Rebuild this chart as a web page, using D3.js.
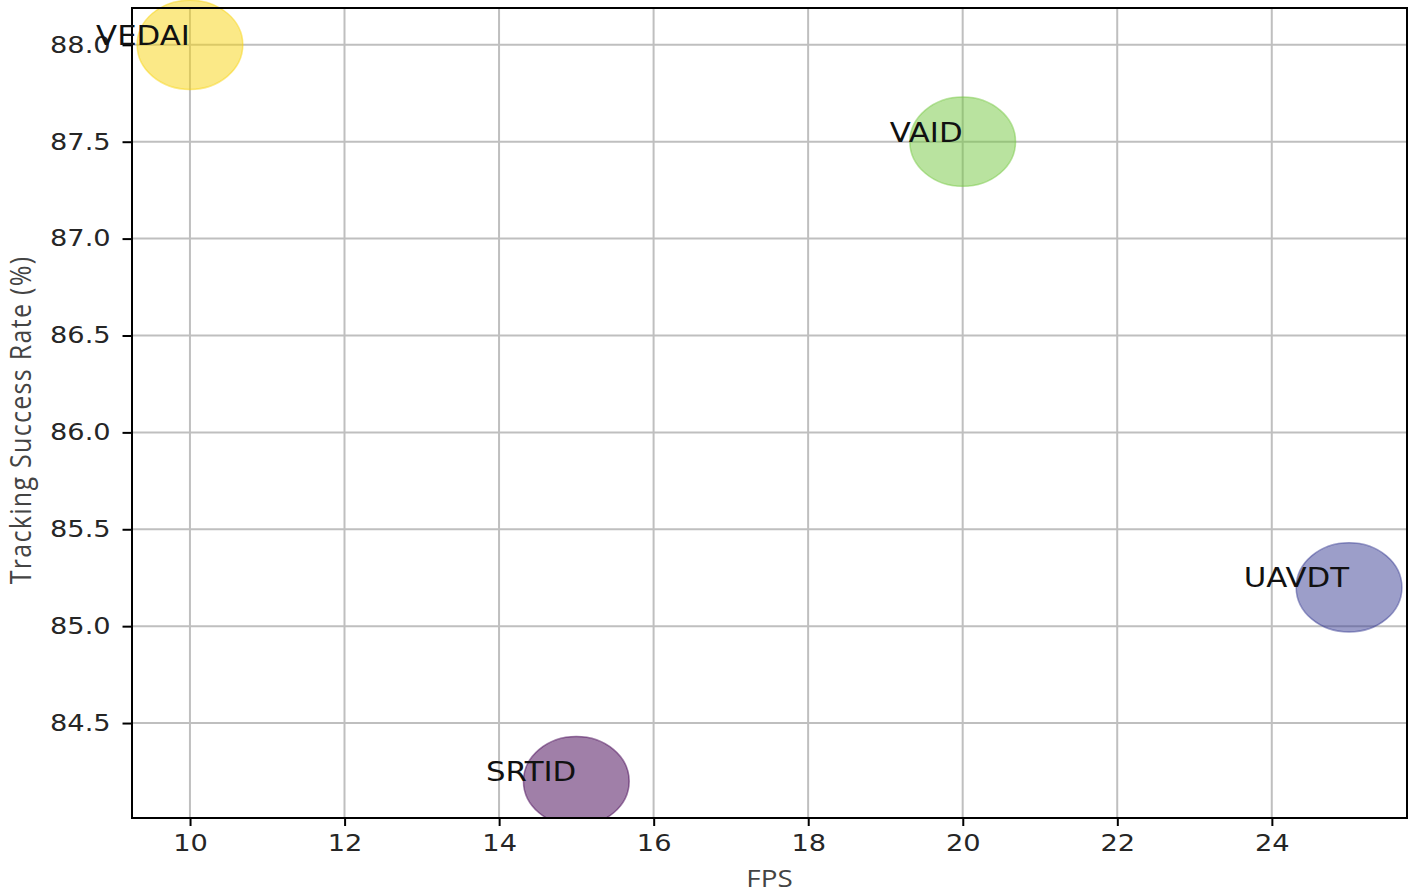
<!DOCTYPE html>
<html>
<head>
<meta charset="utf-8">
<script src="https://cdn.jsdelivr.net/npm/d3@7"></script>
<style>
  html, body { margin: 0; padding: 0; background: #fff; }
  svg { display: block; }
  .ln { vector-effect: non-scaling-stroke; }
</style>
</head>
<body>
<svg id="chart" width="1418" height="895"></svg>
<script>
// ---- data ----
const names = ["VEDAI", "VAID", "UAVDT", "SRTID"];
const fps = [10, 20, 25, 15];
const successRate = [88.0, 87.5, 85.2, 84.2];
const colors = ["#f7d30f", "#73c73f", "#393d93", "#420052"];
const xTicks = [10, 12, 14, 16, 18, 20, 22, 24];
const yTicks = [84.5, 85.0, 85.5, 86.0, 86.5, 87.0, 87.5, 88.0];
const xDomain = [9.25, 25.75];
const yDomain = [84.01, 88.19];

(function () {
// ---- layout (drawing is horizontally stretched like the reference) ----
const W = 1418, H = 895, sx = 1.185;
const pL = 132 / sx, pR = 1407 / sx, pT = 8, pB = 818;
const markerR = 44.6;

const svg = d3.select("#chart");
svg.append("rect").attr("width", W).attr("height", H).attr("fill", "#fff");
const g = svg.append("g").attr("transform", `scale(${sx},1)`);

const x = d3.scaleLinear().domain(xDomain).range([pL, pR]);
const y = d3.scaleLinear().domain(yDomain).range([pB, pT]);

// grid
g.append("g").selectAll("line").data(xTicks).join("line").attr("class", "ln")
  .attr("x1", d => x(d)).attr("x2", d => x(d)).attr("y1", pT).attr("y2", pB)
  .attr("stroke", "#bfbfbf").attr("stroke-width", 2);
g.append("g").selectAll("line").data(yTicks).join("line").attr("class", "ln")
  .attr("x1", pL).attr("x2", pR).attr("y1", d => y(d)).attr("y2", d => y(d))
  .attr("stroke", "#bfbfbf").attr("stroke-width", 2);

// clip (bottom edge only, as in reference)
svg.append("defs").append("clipPath").attr("id", "clip")
  .append("rect").attr("x", 0).attr("y", -100).attr("width", W).attr("height", pB + 100);

// markers
const idx = d3.range(names.length);
g.append("g").attr("clip-path", "url(#clip)").selectAll("circle").data(idx).join("circle")
  .attr("cx", i => x(fps[i])).attr("cy", i => y(successRate[i])).attr("r", markerR)
  .attr("fill", i => colors[i]).attr("fill-opacity", 0.5)
  .attr("stroke", i => colors[i]).attr("stroke-opacity", 0.5).attr("stroke-width", 1.5)
  .attr("class", "ln");

// axes
const xAxis = g.append("g").attr("transform", `translate(0,${pB})`)
  .call(d3.axisBottom(x).tickValues(xTicks).tickFormat(d3.format("d")).tickSize(8).tickPadding(9));
const yAxis = g.append("g").attr("transform", `translate(${pL},0)`)
  .call(d3.axisLeft(y).tickValues(yTicks).tickFormat(d3.format(".1f")).tickSize(8).tickPadding(10));
[xAxis, yAxis].forEach(a => {
  a.select(".domain").remove();
  a.selectAll(".tick line").attr("class", "ln").attr("stroke", "#000").attr("stroke-width", 2);
  a.selectAll(".tick text").attr("font-family", "DejaVu Sans").attr("font-size", 23).attr("fill", "#262626");
});

// frame
g.append("rect").attr("class", "ln").attr("x", pL).attr("y", pT)
  .attr("width", pR - pL).attr("height", pB - pT)
  .attr("fill", "none").attr("stroke", "#000").attr("stroke-width", 2);

// point labels
g.append("g").selectAll("text").data(idx).join("text")
  .attr("x", i => x(fps[i])).attr("y", i => y(successRate[i]))
  .attr("text-anchor", "end")
  .attr("font-family", "DejaVu Sans").attr("font-size", 26).attr("fill", "#111")
  .text(i => names[i]);

// axis titles
g.append("text").attr("x", (pL + pR) / 2).attr("y", 887)
  .attr("text-anchor", "middle").attr("font-family", "Open Sans").attr("font-size", 23.5)
  .attr("fill", "#444").text("FPS");
g.append("text").attr("transform", `translate(${31 / sx},${420}) rotate(-90)`)
  .attr("text-anchor", "middle").attr("font-family", "Open Sans").attr("font-size", 25)
  .attr("letter-spacing", 1.3)
  .attr("fill", "#444").text("Tracking Success Rate (%)");
})();
</script>
</body>
</html>
